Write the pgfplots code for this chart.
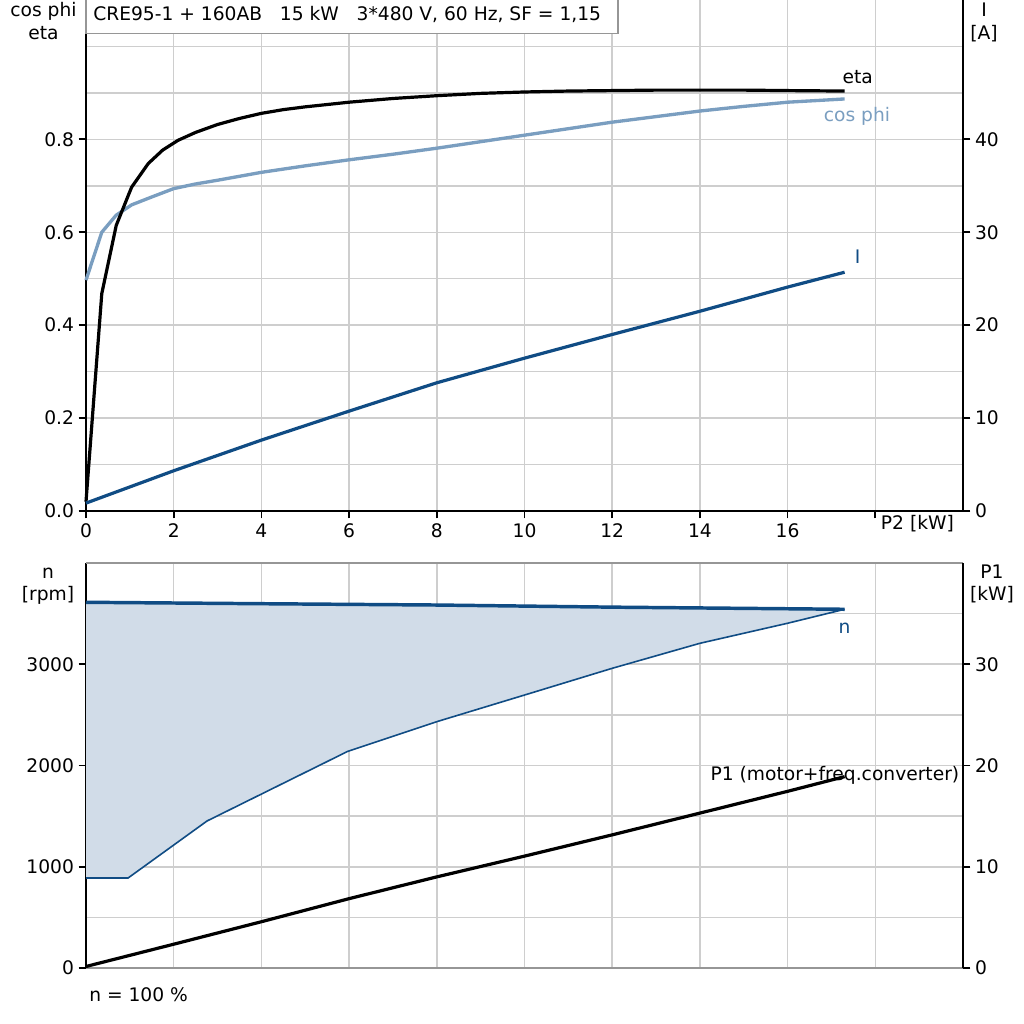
\documentclass[border=0pt]{standalone}
\usepackage{pgfplots}
\pgfplotsset{compat=1.18}
\usepackage{fontspec}
\setmainfont{DejaVu Sans}
\definecolor{dblue}{RGB}{16,76,132}
\definecolor{cphi}{RGB}{122,158,192}
\definecolor{nfill}{RGB}{209,220,232}
\definecolor{gridc}{RGB}{206,206,206}
\definecolor{framec}{RGB}{150,150,150}
\pgfplotsset{
  base/.style={scale only axis, width=657.75pt, xmin=0, xmax=20, anchor=north west,
    tick align=outside, major tick length=5.5pt, minor tick length=0pt,
    tick style={black, line width=1.3pt},
    /pgf/number format/assume math mode=true,
    ticklabel style={font=\fontsize{14}{16.5}\selectfont},
    xticklabel style={text height=10.7pt, text depth=3pt},
    axis line style={black, line width=1.8pt},
    grid style={gridc, line width=1.15pt},
    clip=false},
}
\begin{document}
\begin{tikzpicture}[font=\fontsize{14}{16.5}\selectfont]
\useasboundingbox (0,0) rectangle (768pt,-768pt);
% ---------- top panel: cos phi, eta ----------
\begin{axis}[base, at={(64.5pt,0pt)}, height=383.25pt, ymin=0, ymax=1.1,
  axis x line*=bottom, axis y line*=left,
  xtick={0,2,...,18}, xticklabels={0,2,4,6,8,10,12,14,16,{}},
  extra x ticks={18.96}, extra x tick labels={P2 [kW]},
  extra x tick style={major tick length=0pt, grid=none},
  ytick={0,0.2,0.4,0.6,0.8}, yticklabels={0.0,0.2,0.4,0.6,0.8},
  minor ytick={0.1,0.3,0.5,0.7,0.9,1.0},
  grid=both]
\addplot[cphi, line width=2.5pt] coordinates {
 (0,0.497) (0.36,0.600) (0.69,0.637) (1.04,0.659) (1.5,0.676) (2,0.694)
 (2.5,0.704) (3,0.712) (4,0.729) (5,0.743) (6,0.756) (7,0.768) (8,0.781)
 (9,0.795) (10,0.809) (11,0.823) (12,0.837) (13,0.849) (14,0.861)
 (15,0.871) (16,0.880) (17.3,0.887)};
\addplot[black, line width=2.4pt] coordinates {
 (0,0.02) (0.36,0.468) (0.69,0.615) (1.04,0.697) (1.42,0.748) (1.75,0.777)
 (2.1,0.798) (2.5,0.815) (3,0.832) (3.5,0.845) (4,0.856) (4.5,0.864) (5,0.870)
 (6,0.880) (7,0.888) (8,0.894) (9,0.899) (10,0.902) (11,0.904)
 (12,0.905) (13,0.906) (14,0.906) (15,0.906) (16,0.905) (17.3,0.904)};
\node[anchor=base west, inner sep=0pt] at (axis cs:17.25,0.920) {eta};
\node[anchor=base west, inner sep=0pt, text=cphi] at (axis cs:16.82,0.839) {cos phi};
\node[anchor=base west, inner sep=0pt, text=dblue] at (axis cs:17.53,0.533) {I};
\end{axis}
% ---------- top panel: I ----------
\begin{axis}[base, at={(64.5pt,0pt)}, height=383.25pt, ymin=0, ymax=55,
  axis x line=none, axis y line*=right,
  ytick={0,10,20,30,40}, yticklabels={0,10,20,30,40}]
\addplot[dblue, line width=2.4pt] coordinates {
 (0,0.85) (2,4.33) (4,7.63) (6,10.75) (8,13.8) (10,16.45)
 (12,19.0) (14,21.5) (16,24.1) (17.3,25.7)};
\end{axis}
% ---------- bottom panel: n ----------
\begin{axis}[base, at={(64.5pt,-422.25pt)}, height=303.75pt, ymin=0, ymax=4000,
  axis x line*=bottom, axis y line*=left,
  x axis line style={framec, line width=1.3pt},
  xtick={2,4,...,18}, xticklabels={}, xtick style={draw=none},
  ytick={0,1000,2000,3000}, yticklabels={0,1000,2000,3000},
  minor ytick={500,1500,2500,3500},
  grid=both]
\addplot[fill=nfill, draw=none] coordinates {
 (0,3612) (4,3598) (8,3585) (12,3564) (17.3,3543)
 (16,3405) (14,3207) (12,2960) (10,2696) (8,2433) (5.97,2140)
 (2.76,1452) (0.96,889) (0,889)} -- cycle;
\addplot[dblue, line width=1.2pt] coordinates {
 (0,889) (0.96,889) (2.76,1452) (5.97,2140) (8,2433) (10,2696)
 (12,2960) (14,3207) (16,3405) (17.3,3543)};
\addplot[dblue, line width=2.6pt] coordinates {
 (0,3612) (4,3598) (8,3585) (12,3564) (17.3,3543)};
\draw[framec, line width=1.3pt] (rel axis cs:0,1) -- (rel axis cs:1,1);
\node[anchor=base west, inner sep=0pt, text=dblue] at (axis cs:17.16,3299) {n};
\node[anchor=base east, inner sep=0pt] at (axis cs:19.92,1850) {P1 (motor+freq.converter)};
\end{axis}
% ---------- bottom panel: P1 ----------
\begin{axis}[base, at={(64.5pt,-422.25pt)}, height=303.75pt, ymin=0, ymax=40,
  axis x line=none, axis y line*=right,
  ytick={0,10,20,30}, yticklabels={0,10,20,30}]
\addplot[black, line width=2.4pt] coordinates {
 (0,0.15) (2,2.35) (4,4.57) (6,6.85) (8,9.0) (10,11.05)
 (12,13.15) (14,15.3) (16,17.45) (17.3,18.9)};
\end{axis}
% ---------- texts ----------
\node[anchor=base, inner sep=0pt] at (32.6pt,-12.75pt) {cos phi};
\node[anchor=base, inner sep=0pt] at (32.6pt,-29.4pt) {eta};
\node[anchor=base, inner sep=0pt] at (738pt,-12.75pt) {I};
\node[anchor=base, inner sep=0pt] at (738pt,-29.6pt) {[A]};
\node[anchor=base, inner sep=0pt] at (36pt,-434pt) {n};
\node[anchor=base, inner sep=0pt] at (36pt,-450.7pt) {[rpm]};
\node[anchor=base, inner sep=0pt] at (744pt,-434pt) {P1};
\node[anchor=base, inner sep=0pt] at (744pt,-450.7pt) {[kW]};
\node[anchor=base west, inner sep=0pt] at (66.75pt,-751.3pt) {n = 100 \%};
\draw[framec, line width=0.8pt, fill=white] (64.5pt,1pt) rectangle (463.5pt,-25pt);
\node[anchor=base west, inner sep=0pt] at (69.75pt,-15.5pt)
  {CRE95-1 + 160AB\hspace{0.954em}15 kW\hspace{0.954em}3*480 V, 60 Hz, SF = 1,15};
\end{tikzpicture}
\end{document}
